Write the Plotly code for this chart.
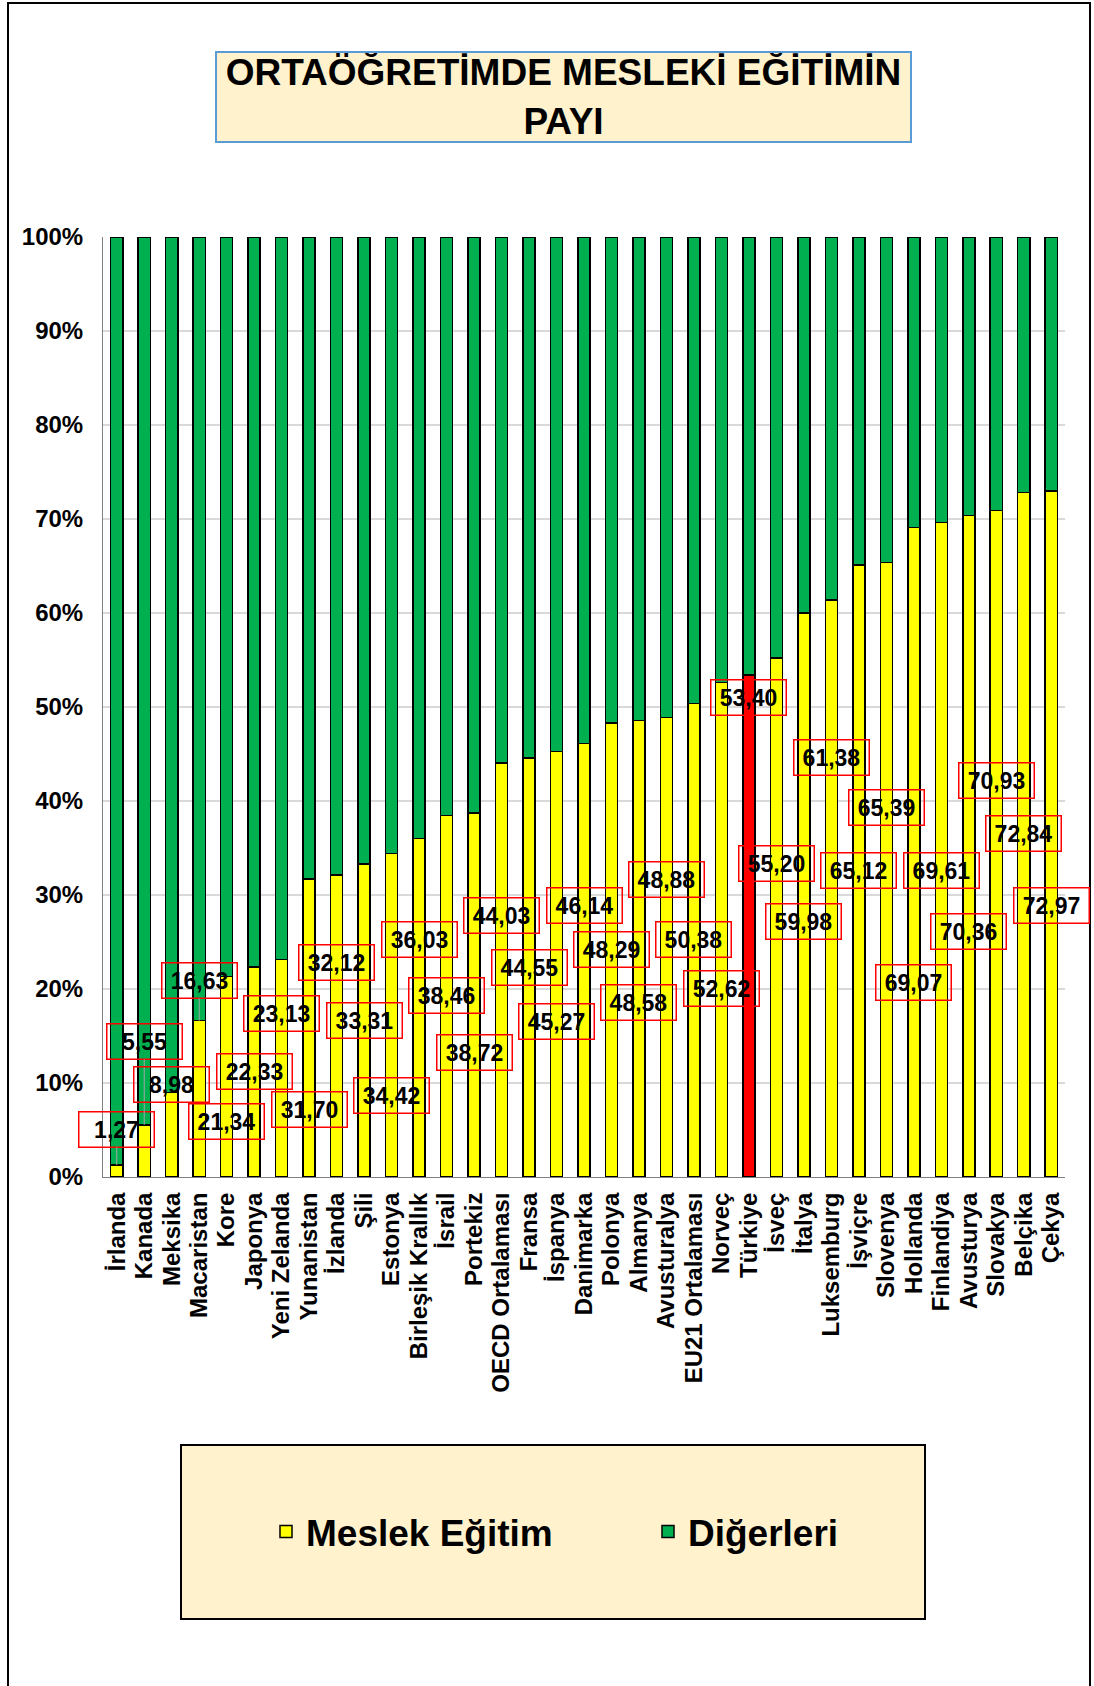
import plotly.graph_objects as go

countries = ["İrlanda", "Kanada", "Meksika", "Macaristan", "Kore", "Japonya", "Yeni Zelanda",
             "Yunanistan", "İzlanda", "Şili", "Estonya", "Birleşik Krallık", "İsrail", "Portekiz",
             "OECD Ortalaması", "Fransa", "İspanya", "Danimarka", "Polonya", "Almanya",
             "Avusturalya", "EU21 Ortalaması", "Norveç", "Türkiye", "İsveç", "İtalya",
             "Luksemburg", "İşviçre", "Slovenya", "Hollanda", "Finlandiya", "Avusturya",
             "Slovakya", "Belçika", "Çekya"]

meslek = [1.27, 5.55, 8.98, 16.63, 21.34, 22.33, 23.13, 31.70, 32.12, 33.31, 34.42, 36.03,
          38.46, 38.72, 44.03, 44.55, 45.27, 46.14, 48.29, 48.58, 48.88, 50.38, 52.62, 53.40,
          55.20, 59.98, 61.38, 65.12, 65.39, 69.07, 69.61, 70.36, 70.93, 72.84, 72.97]

digerleri = [98.73, 94.45, 91.02, 83.37, 78.66, 77.67, 76.87, 68.30, 67.88, 66.69, 65.58, 63.97,
             61.54, 61.28, 55.97, 55.45, 54.73, 53.86, 51.71, 51.42, 51.12, 49.62, 47.38, 46.60,
             44.80, 40.02, 38.62, 34.88, 34.61, 30.93, 30.39, 29.64, 29.07, 27.16, 27.03]

# vertical position (in %) of each value label box (layout)
label_pos = [5.05, 14.4, 9.84, 20.9, 5.94, 11.26, 17.36, 7.18, 22.85, 16.7, 8.67, 25.27,
             19.3, 13.2, 27.8, 22.3, 16.5, 28.9, 24.2, 18.6, 31.7, 25.3, 20.1, 50.96,
             33.4, 27.2, 44.6, 32.6, 39.3, 20.7, 32.6, 26.1, 42.2, 36.5, 28.9]

highlight = "Türkiye"

YELLOW = "#FFFF00"
GREEN = "#00B050"
RED = "#FF0000"
FONT = "Liberation Sans, Arial, Helvetica, sans-serif"

W, H = 1094, 1686
L, R, T, B = 103, 29, 237, 509
PW = W - L - R
PH = H - T - B


def px(x):
    return (x - L) / PW


def py(y):
    return (H - B - y) / PH


meslek_colors = [RED if c == highlight else YELLOW for c in countries]

fig = go.Figure()
fig.add_trace(go.Bar(
    x=countries, y=meslek, name="Meslek Eğitim",
    marker=dict(color=meslek_colors, line=dict(color="black", width=1.5)),
    legend="legend", hoverinfo="skip",
))
fig.add_trace(go.Bar(
    x=countries, y=digerleri, name="Diğerleri",
    marker=dict(color=GREEN, line=dict(color="black", width=1.5)),
    legend="legend2", hoverinfo="skip",
))

annotations = []
for c, v, ly in zip(countries, meslek, label_pos):
    txt = f"{v:.2f}".replace(".", ",")
    common = dict(
        text=txt, xref="x", yref="y",
        font=dict(family=FONT, size=23, color="black", weight="bold"),
        bordercolor=RED, borderwidth=1.5, borderpad=1,
        bgcolor="rgba(0,0,0,0)", width=72, height=32,
        xanchor="center", yanchor="middle",
    )
    if ly > v:
        annotations.append(dict(
            x=c, y=v, ax=c, ay=ly, axref="x", ayref="y",
            showarrow=True, arrowhead=0, arrowwidth=1, arrowcolor="#A6A6A6",
            standoff=0, **common))
    else:
        annotations.append(dict(x=c, y=ly, showarrow=False, **common))

# title box
annotations.append(dict(
    text="ORTAÖĞRETİMDE MESLEKİ EĞİTİMİN<br>PAYI",
    xref="paper", yref="paper", x=px(563), y=py(97),
    xanchor="center", yanchor="middle", showarrow=False,
    font=dict(family=FONT, size=37, color="black", weight="bold"),
    bgcolor="#FFF2CC", bordercolor="#5B9BD5", borderwidth=2, borderpad=0,
    width=693, height=88,
))

shapes = [
    # outer frame
    dict(type="rect", xref="paper", yref="paper",
         x0=px(8), x1=px(1090), y0=py(1692), y1=py(3),
         line=dict(color="black", width=2), fillcolor="rgba(0,0,0,0)", layer="below"),
    # legend box
    dict(type="rect", xref="paper", yref="paper",
         x0=px(181), x1=px(925), y0=py(1619), y1=py(1445),
         line=dict(color="black", width=2), fillcolor="#FFF2CC", layer="below"),
]

legend_common = dict(
    orientation="h", yanchor="middle", xanchor="left",
    font=dict(family=FONT, size=37, color="black", weight="bold"),
    bgcolor="rgba(0,0,0,0)", borderwidth=0, itemclick=False, itemdoubleclick=False,
)

fig.update_layout(
    width=W, height=H,
    margin=dict(l=L, r=R, t=T, b=B, autoexpand=False),
    paper_bgcolor="white", plot_bgcolor="white",
    barmode="stack", bargap=0.56,
    showlegend=True,
    legend=dict(x=px(266), y=py(1532), **legend_common),
    legend2=dict(x=px(648), y=py(1532), **legend_common),
    annotations=annotations,
    shapes=shapes,
    xaxis=dict(
        type="category", tickangle=-90, range=[-0.5, len(countries) - 0.5],
        tickmode="linear", dtick=1, tick0=0,
        tickfont=dict(family=FONT, size=24, color="black", weight="bold"),
        showline=True, linecolor="#808080", linewidth=1,
        ticks="", ticklabelstandoff=5, showgrid=False,
    ),
    yaxis=dict(
        range=[0, 100], dtick=10, ticksuffix="%",
        tickfont=dict(family=FONT, size=24, color="black", weight="bold"),
        showline=True, linecolor="#808080", linewidth=1,
        showgrid=True, gridcolor="#D9D9D9", gridwidth=1.5,
        ticks="", ticklabelstandoff=14, zeroline=False,
    ),
)

fig.write_html("out.html", config={"displayModeBar": False},
               post_script="document.body.style.margin='0px';")
